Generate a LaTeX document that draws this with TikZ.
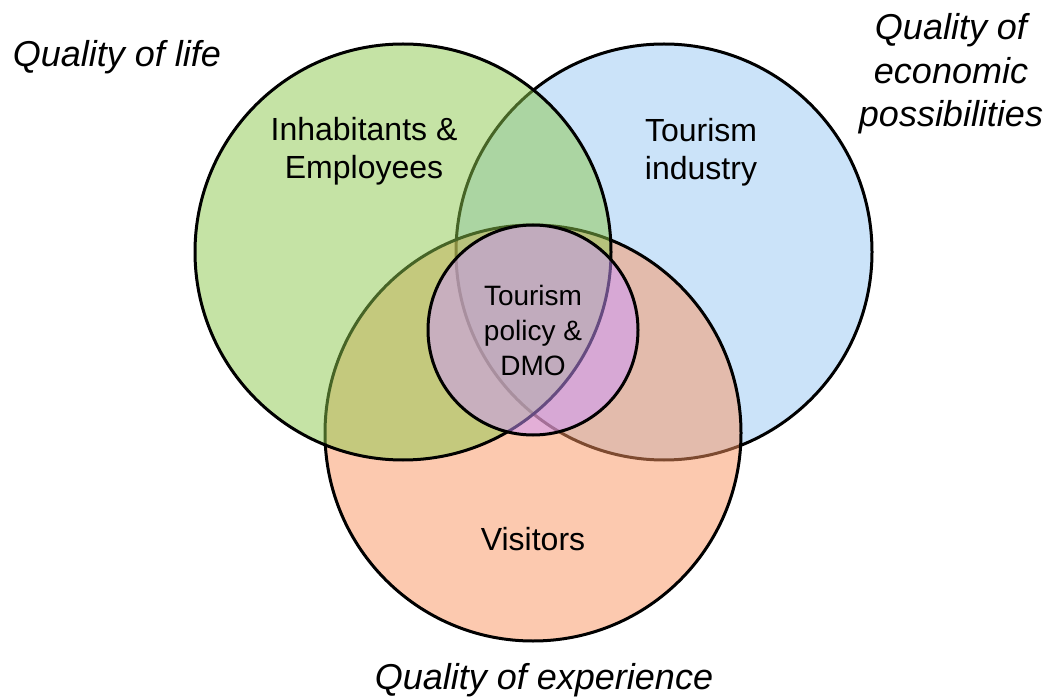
\documentclass[tikz,border=0pt]{standalone}
\usepackage{fontspec}
\setmainfont{Liberation Sans}

\definecolor{venngreen}{RGB}{141,201,77}
\definecolor{vennblue}{RGB}{153,201,245}
\definecolor{vennorange}{RGB}{251,149,97}
\definecolor{vennpurple}{RGB}{204,150,255}

\begin{document}
\begin{tikzpicture}[x=1pt,y=-1pt,
  ring/.style={draw=black, line width=3pt, fill opacity=0.5},
  setlabel/.style={inner sep=0pt, align=center, text=black,
    font=\fontsize{32}{38.5}\selectfont},
  corelabel/.style={inner sep=0pt, align=center, text=black,
    font=\fontsize{28}{35}\selectfont},
  quallabel/.style={inner sep=0pt, align=center, text=black,
    font=\itshape\fontsize{36}{43.5}\selectfont}]

\useasboundingbox (0,0) rectangle (1049,700);
\fill[white] (0,0) rectangle (1049,700);

% the three sets, then the shared core on top
\draw[ring, fill=vennblue]   (664,252) circle[radius=208pt];
\draw[ring, fill=vennorange] (533,433) circle[radius=208pt];
\draw[ring, fill=venngreen]  (403,252) circle[radius=208pt];
\draw[ring, fill=vennpurple] (533,330) circle[radius=105pt];

% set names
\node[setlabel] (inhabitants) at (364,151) {Inhabitants \&\\Employees};
\node[setlabel] (industry)    at (701,152) {Tourism\\industry};
\node[setlabel, anchor=base] (visitors) at (533,550) {Visitors};
\node[corelabel] (policy)     at (533,330) {Tourism\\policy \&\\DMO};

% quality dimensions
\node[quallabel, anchor=base] (qlife) at (117,67) {Quality of life};
\node[quallabel] (qecon) at (951,74) {Quality of\\economic\\possibilities};
\node[quallabel, anchor=base] (qexp) at (544,689) {Quality of experience};

\end{tikzpicture}
\end{document}
